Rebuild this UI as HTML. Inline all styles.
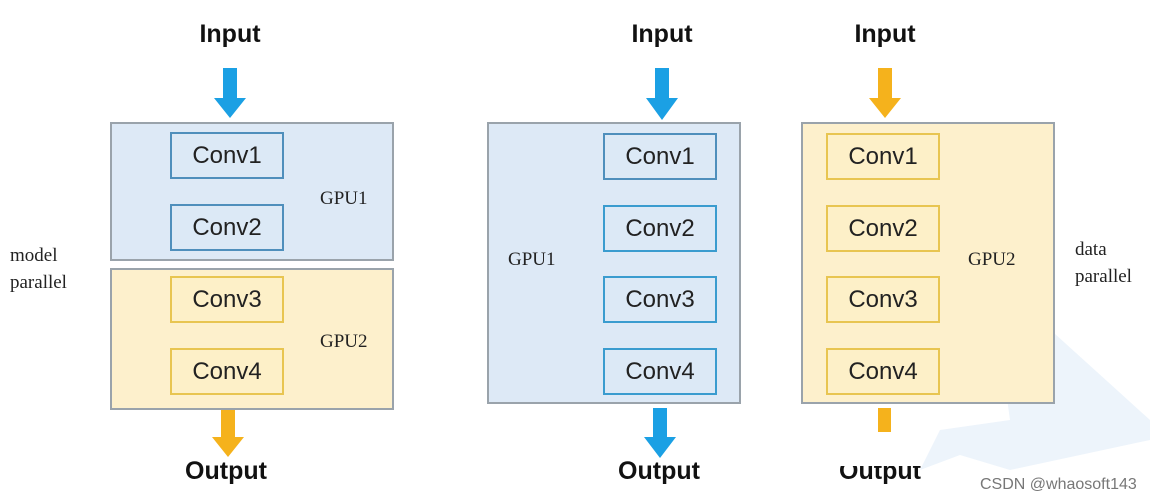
<!DOCTYPE html>
<html><head><meta charset="utf-8"><style>
body{margin:0;width:1167px;height:503px;background:#fff;position:relative;overflow:hidden;font-family:"Liberation Sans",sans-serif}
.a{position:absolute}
.box{position:absolute;box-sizing:border-box;border:2px solid #9aa3ab}
.blue{background:#dde9f6}
.yel{background:#fdf0cc}
.c{position:absolute;box-sizing:border-box;width:114px;height:47px;border:2px solid;font-size:24px;text-align:center;line-height:43px;color:#222}
.cb{border-color:#4f8fbc;background:#dce9f6}
.cb2{border-color:#3a9ccf;background:#dce9f6}
.cy{border-color:#e8c551;background:#fdf0c8}
.t{position:absolute;font-weight:bold;font-size:25px;color:#111;transform:translateX(-50%)}
.s{position:absolute;font-family:"Liberation Serif",serif;font-size:19px;color:#222;line-height:27px}
</style></head><body>
<svg class="a" style="left:0;top:0" width="1167" height="503">
<polygon points="990,275 1150,420 1150,440 1010,470 960,455 920,470 940,430 1010,420" fill="#edf4fb"/>
</svg>
<div class="t" style="left:230px;top:20px">Input</div>
<div class="t" style="left:662px;top:20px">Input</div>
<div class="t" style="left:885px;top:20px">Input</div>

<svg class="a" style="left:0;top:0" width="1167" height="503">
<g fill="#1ba0e4"><polygon points="223,68 237,68 237,98 246,98 230,118 214,98 223,98"/>
<polygon points="655,68 669,68 669,98 678,98 662,120 646,98 655,98"/>
<polygon points="653,408 667,408 667,437 676,437 660,458 644,437 653,437"/></g>
<g fill="#f5b21c"><polygon points="878,68 892,68 892,98 901,98 885,118 869,98 878,98"/>
<polygon points="221,410 235,410 235,437 244,437 228,457 212,437 221,437"/>
<rect x="878" y="408" width="13" height="24"/></g>
</svg>

<div class="box blue" style="left:110px;top:122px;width:284px;height:139px"></div>
<div class="box yel" style="left:110px;top:268px;width:284px;height:142px"></div>
<div class="c cb" style="left:170px;top:132px">Conv1</div>
<div class="c cb" style="left:170px;top:204px">Conv2</div>
<div class="c cy" style="left:170px;top:276px">Conv3</div>
<div class="c cy" style="left:170px;top:348px">Conv4</div>
<div class="s" style="left:320px;top:185px">GPU1</div>
<div class="s" style="left:320px;top:328px">GPU2</div>
<div class="s" style="left:10px;top:242px">model<br>parallel</div>

<div class="box blue" style="left:487px;top:122px;width:254px;height:282px"></div>
<div class="c cb" style="left:603px;top:133px">Conv1</div>
<div class="c cb2" style="left:603px;top:205px">Conv2</div>
<div class="c cb2" style="left:603px;top:276px">Conv3</div>
<div class="c cb2" style="left:603px;top:348px">Conv4</div>
<div class="s" style="left:508px;top:246px">GPU1</div>

<div class="box yel" style="left:801px;top:122px;width:254px;height:282px"></div>
<div class="c cy" style="left:826px;top:133px">Conv1</div>
<div class="c cy" style="left:826px;top:205px">Conv2</div>
<div class="c cy" style="left:826px;top:276px">Conv3</div>
<div class="c cy" style="left:826px;top:348px">Conv4</div>
<div class="s" style="left:968px;top:246px">GPU2</div>
<div class="s" style="left:1075px;top:236px">data<br>parallel</div>

<div class="t" style="left:226px;top:457px">Output</div>
<div class="t" style="left:659px;top:457px">Output</div>
<div class="t" style="left:880px;top:457px;clip-path:inset(9px 0 0 0)">Output</div>
<div class="a" style="left:980px;top:476px;font-size:16px;color:#777">CSDN @whaosoft143</div>
</body></html>
